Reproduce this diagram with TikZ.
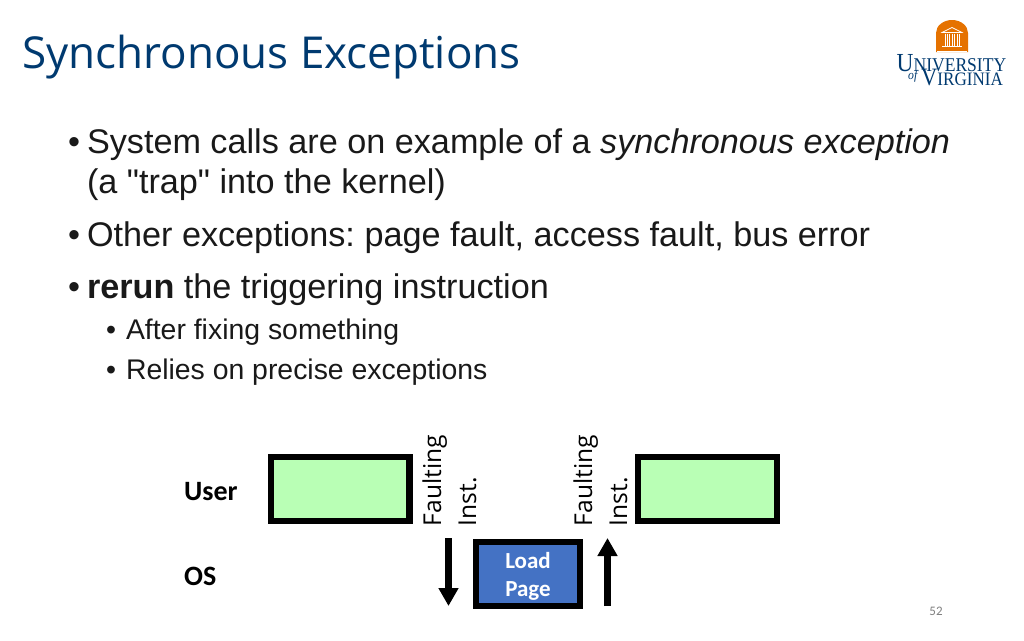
\documentclass[tikz,border=0pt]{standalone}
\usepackage{fontspec}
\setmainfont{Liberation Sans}
\newfontfamily\quotefont{Liberation Sans}
\newfontfamily\titlefont{Open Sans}
\newfontfamily\labelfont{Carlito}
\newfontfamily\logofont{Liberation Serif}
\definecolor{navy}{HTML}{003A70}
\definecolor{uvaorange}{HTML}{E57200}
\definecolor{lightgreen}{HTML}{B9FFB5}
\definecolor{loadblue}{HTML}{4472C4}
\newcommand{\fs}[1]{\fontsize{#1}{#1}\selectfont}
\usetikzlibrary{arrows.meta}
\tikzset{
 x=1pt,y=-1pt,
 body/.style={anchor=base west,inner sep=0pt,outer sep=0pt,text=black!90},
 greenbox/.style={draw=black,line width=6.3pt,fill=lightgreen,minimum width=138.7pt,minimum height=63.7pt,inner sep=0pt},
 bluebox/.style={draw=black,line width=6.3pt,fill=loadblue,minimum width=103.7pt,minimum height=63.7pt,inner sep=0pt},
 boxtext/.style={inner sep=0pt,align=center,text=white,font=\labelfont\bfseries\fs{23}},
 faultlabel/.style={rotate=90,anchor=base west,inner sep=0pt,font=\titlefont\fs{24.6}},
 rowlabel/.style={anchor=base west,inner sep=0pt,font=\labelfont\bfseries\fs{28}},
 bigarrow/.style={draw=black,line width=6.3pt,-{Triangle[length=18pt,width=19pt]}},
 logotext/.style={anchor=base west,inner sep=0pt,text=navy,xscale=.9,transform shape},
}
\begin{document}
\begin{tikzpicture}
\useasboundingbox (0,0) rectangle (1024,640);
\fill[white] (0,0) rectangle (1024,640);
\node[anchor=base west,inner sep=0pt,text=navy,font=\titlefont\fs{44}] (title) at (22,68) {Synchronous Exceptions};
% bullets
\node[body,font=\fs{34.2}] (b1) at (68,153) {•};
\node[body,font=\fs{34.2}] (t1) at (87,153) {System calls are on example of a \textit{synchronous exception}};
\node[body,font=\fs{34.2}] (t1b) at (87,193) {\quotefont (a "trap" into the kernel)};
\node[body,font=\fs{34.2}] (b2) at (68,246) {•};
\node[body,font=\fs{34.2}\frenchspacing] (t2) at (87,246) {Other exceptions: page fault, access fault, bus error};
\node[body,font=\fs{34.2}] (b3) at (68,298) {•};
\node[body,font=\fs{34.2}] (t3) at (87,298) {\textbf{rerun} the triggering instruction};
\node[body,font=\fs{28.4}] (b4) at (106,339) {•};
\node[body,font=\fs{28.4}] (t4) at (126,339) {After fixing something};
\node[body,font=\fs{28.4}] (b5) at (106,379) {•};
\node[body,font=\fs{28.4}] (t5) at (126,379) {Relies on precise exceptions};
% diagram
\node[rowlabel] (user) at (184,500) {User};
\node[rowlabel] (os) at (184,585) {OS};
\node[greenbox] (g1) at (340,489) {};
\node[greenbox] (g2) at (707.5,489) {};
\node[bluebox] (lp) at (528,574) {};
\node[boxtext] (lptext) at (528,576) {Load\\[5pt]Page};
\node[faultlabel] (f1) at (441,526.5) {Faulting};
\node[faultlabel] (i1) at (476,526.5) {Inst.};
\node[faultlabel] (f2) at (592,526.5) {Faulting};
\node[faultlabel] (i2) at (627,526.5) {Inst.};
\coordinate (a1s) at (448.5,538);
\coordinate (a1e) at (448.5,606);
\coordinate (a2s) at (607.5,606);
\coordinate (a2e) at (607.5,538);
\draw[bigarrow] (a1s) -- (a1e);
\draw[bigarrow] (a2s) -- (a2e);
\node[anchor=base,inner sep=0pt,text=gray,font=\labelfont\fs{13}] (pg) at (936,615) {52};
% logo
\fill[uvaorange] (936,52) -- (936,33) arc[start angle=180,end angle=0,x radius=16,y radius=-13] -- (968,52) -- cycle;
\draw[white,line width=.7pt] (942,32.5) -- (952,27.5) -- (962,32.5) -- cycle;
\foreach \px in {945,947.4,949.8,952.2,954.6,957,959.4}{\draw[white,line width=.9pt] (\px,33.5) -- (\px,46);}
\draw[white,line width=.8pt] (942,46.5) -- (962,46.5);
\draw[white,line width=1pt] (937,51.2) -- (967,51.2);
\node[logotext,font=\logofont\fs{26}] (uva) at (896.5,71) {U\fs{19.5}NIVERSITY};
\node[logotext,font=\logofont\itshape\fs{13}] (of) at (908,79) {of};
\node[logotext,font=\logofont\fs{25}] (vir) at (921,85.5) {V\fs{19}IRGINIA};
\end{tikzpicture}
\end{document}
